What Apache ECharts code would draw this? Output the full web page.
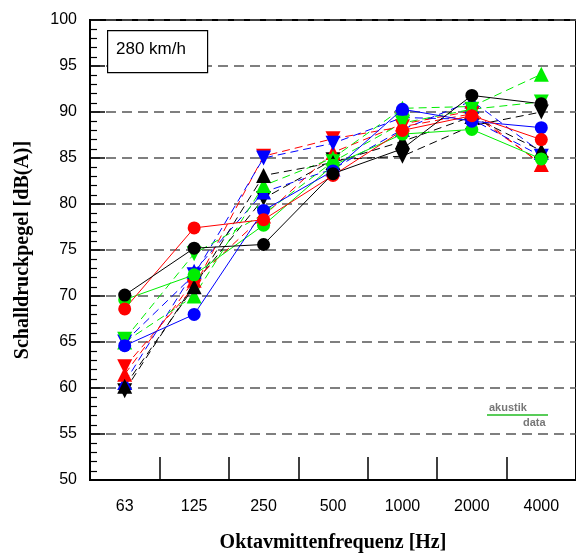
<!DOCTYPE html>
<html>
<head>
<meta charset="utf-8">
<script src="https://cdn.jsdelivr.net/npm/echarts@6/dist/echarts.min.js"></script>
<style>html,body{margin:0;padding:0;background:#fff;}#c{width:576px;height:558px;}</style>
</head>
<body>
<div id="c"></div>
<script>
const categories = ['63', '125', '250', '500', '1000', '2000', '4000'];
const yTicks = { min: 50, max: 100, interval: 5 };

const blackCircle = [70.1, 75.2, 75.6, 83.3, 86.0, 91.8, 90.9];
const blackUp     = [60.2, 71.0, 83.1, 84.5, 86.8, 89.5, 85.8];
const blackDown   = [59.7, 71.3, 80.6, 84.8, 85.2, 88.5, 90.0];

const redCircle = [68.6, 77.4, 78.3, 83.1, 88.0, 89.6, 87.0];
const redUp     = [61.5, 71.7, 78.7, 85.6, 88.7, 90.1, 84.3];
const redDown   = [62.3, 71.0, 85.2, 87.1, 88.4, 89.8, 84.4];

const greenCircle = [69.6, 72.3, 77.7, 84.2, 87.6, 88.1, 84.9];
const greenUp     = [65.0, 70.0, 82.0, 85.0, 90.4, 90.6, 94.1];
const greenDown   = [65.3, 74.6, 78.9, 84.6, 88.8, 90.3, 91.1];

const blueCircle = [64.6, 68.0, 79.3, 83.6, 90.3, 89.0, 88.3];
const blueUp     = [60.6, 72.7, 81.3, 83.8, 88.1, 91.2, 85.6];
const blueDown   = [65.0, 72.3, 85.0, 86.6, 89.4, 89.2, 85.2];

const legendText = '280 km/h';
const xTitle = 'Oktavmittenfrequenz [Hz]';
const yTitle = 'Schalldruckpegel [dB(A)]';

function mk(name, data, color, kind) {
  return {
    name: name, type: 'line', data: data,
    symbol: kind === 'circle' ? 'circle' : 'triangle',
    symbolSize: kind === 'circle' ? 13 : 15,
    symbolRotate: kind === 'down' ? 180 : 0,
    itemStyle: { color: color },
    lineStyle: { color: color, width: 1, type: kind === 'circle' ? 'solid' : [8, 5] },
    z: kind === 'circle' ? 3 : 2,
    animation: false
  };
}

const series = [
  mk('black down', blackDown, '#000000', 'down'),
  mk('blue up', blueUp, '#0000ff', 'up'),
  mk('red up', redUp, '#ff0000', 'up'),
  mk('red down', redDown, '#ff0000', 'down'),
  mk('green up', greenUp, '#00ee00', 'up'),
  mk('blue down', blueDown, '#0000ff', 'down'),
  mk('green down', greenDown, '#00ee00', 'down'),
  mk('black up', blackUp, '#000000', 'up'),
  mk('green circle', greenCircle, '#00ee00', 'circle'),
  mk('blue circle', blueCircle, '#0000ff', 'circle'),
  mk('red circle', redCircle, '#ff0000', 'circle'),
  mk('black circle', blackCircle, '#000000', 'circle')
];

const chart = echarts.init(document.getElementById('c'), null, { renderer: 'canvas' });
chart.setOption({
  animation: false,
  backgroundColor: '#ffffff',
  grid: { left: 90, right: -5, top: 20, bottom: 66, show: true, borderColor: '#000', borderWidth: 2, backgroundColor: 'transparent' },
  xAxis: {
    type: 'category', data: categories, boundaryGap: true,
    axisLine: { show: true, lineStyle: { color: '#000', width: 2 } },
    axisTick: { show: true, inside: true, length: 23, interval: 0, lineStyle: { color: '#000', width: 1.5 } },
    axisLabel: { color: '#000', fontFamily: 'Liberation Sans', fontSize: 16, margin: 19 },
    splitLine: { show: false },
    name: xTitle, nameLocation: 'middle', nameGap: 53,
    nameTextStyle: { color: '#000', fontFamily: 'Liberation Serif', fontWeight: 'bold', fontSize: 20 }
  },
  yAxis: {
    type: 'value', min: yTicks.min, max: yTicks.max, interval: yTicks.interval,
    axisLine: { show: true, lineStyle: { color: '#000', width: 2 } },
    axisTick: { show: true, inside: true, length: 15, lineStyle: { color: '#000', width: 1.5 } },
    minorTick: { show: true, splitNumber: 5, length: 7, lineStyle: { color: '#000', width: 1.2 } },
    axisLabel: { color: '#000', fontFamily: 'Liberation Sans', fontSize: 16, margin: 13 },
    splitLine: { show: true, lineStyle: { color: '#555', width: 1.5, type: [10, 6] } },
    name: yTitle, nameLocation: 'middle', nameGap: 57,
    nameTextStyle: { color: '#000', fontFamily: 'Liberation Serif', fontWeight: 'bold', fontSize: 20 }
  },
  series: series,
  graphic: [
    { type: 'rect', left: 107, top: 30, z: 10, shape: { width: 100, height: 42 }, style: { fill: '#fff', stroke: '#000', lineWidth: 1.2 } },
    { type: 'text', left: 116, top: 41, z: 11, style: { text: legendText, fill: '#000', font: '17px "Liberation Sans"' } },
    { type: 'text', left: 489, top: 402, z: 11, style: { text: 'akustik', fill: '#777', font: 'bold 11px "Liberation Sans"' } },
    { type: 'line', z: 11, shape: { x1: 487, y1: 415, x2: 548, y2: 415 }, style: { stroke: '#22bb22', lineWidth: 1.5 } },
    { type: 'text', left: 523, top: 417, z: 11, style: { text: 'data', fill: '#777', font: 'bold 11px "Liberation Sans"' } }
  ]
});
</script>
</body>
</html>
